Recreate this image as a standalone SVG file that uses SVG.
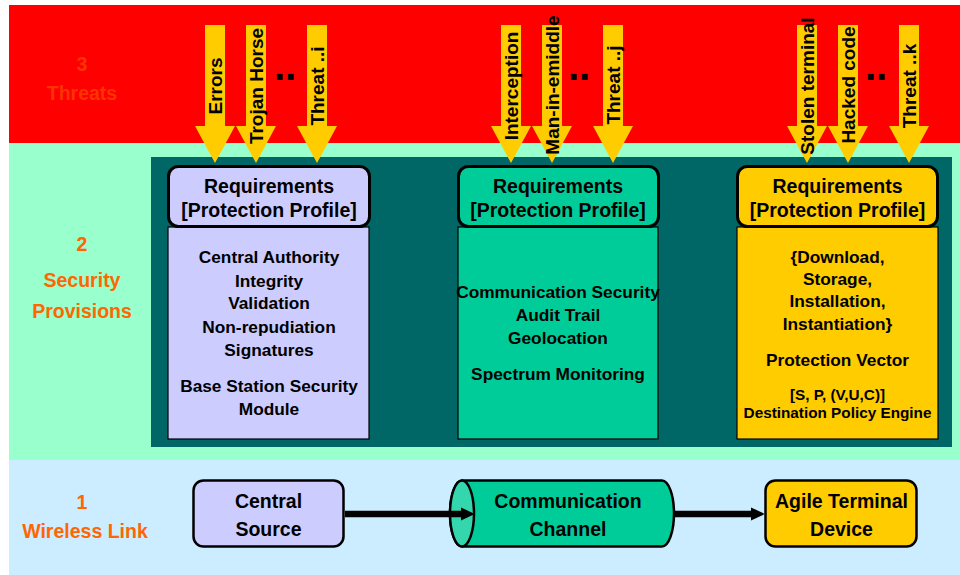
<svg xmlns="http://www.w3.org/2000/svg" width="960" height="575" viewBox="0 0 960 575">
<defs>
<style>
text{font-family:"Liberation Sans",Arial,sans-serif;font-weight:bold;fill:#000}
.lvl{font-size:19.5px;text-anchor:middle}
.thr{font-size:19px;text-anchor:middle}
.hd{font-size:19.5px;text-anchor:middle}
.bd{font-size:17.3px;text-anchor:middle}
.sm{font-size:15.3px;text-anchor:middle}
.nd{font-size:19.5px;text-anchor:middle}
.dots{font-size:40px}
.arr{fill:#FFCC00}
.hdr{stroke:#000;stroke-width:3}
.body{stroke:#000;stroke-width:1.2}
.link{stroke:#000;stroke-width:6.5;fill:none}
</style>
<marker id="ah" markerWidth="3" markerHeight="3" refX="1" refY="1.5" orient="auto" markerUnits="strokeWidth" viewBox="0 0 3 3">
<path d="M0,0.45 L2.2,1.5 L0,2.55 Z" fill="#000"/>
</marker>
</defs>

<g id="bands">
<rect x="9" y="5" width="951" height="138" fill="#FF0000"/>
<rect x="9" y="143" width="951" height="317" fill="#99FFCC"/>
<rect x="9" y="460" width="951" height="115" fill="#CCECFF"/>
<rect x="151" y="157" width="801" height="290" fill="#006666"/>
</g>

<g id="level-labels">
<text class="lvl" x="82" y="71" style="fill:#FF3300">3</text>
<text class="lvl" x="82" y="100" style="fill:#FF3300">Threats</text>
<text class="lvl" x="82" y="251" style="fill:#FF6600">2</text>
<text class="lvl" x="82" y="287" style="fill:#FF6600">Security</text>
<text class="lvl" x="82" y="318" style="fill:#FF6600">Provisions</text>
<text class="lvl" x="82" y="509" style="fill:#FF6600">1</text>
<text class="lvl" x="85" y="538" style="fill:#FF6600">Wireless Link</text>
</g>

<g id="threats">
<g id="threat-errors"><polygon class="arr" points="205,25 225,25 225,126 235,126 215,163 195,126 205,126"/><text class="thr" transform="translate(222,86) rotate(-90)">Errors</text></g>
<g id="threat-trojan"><polygon class="arr" points="246,25 266,25 266,126 276,126 256,163 236,126 246,126"/><text class="thr" transform="translate(263,86) rotate(-90)">Trojan Horse</text></g>
<g id="threat-i"><polygon class="arr" points="307,25 327,25 327,126 337,126 317,163 297,126 307,126"/><text class="thr" transform="translate(324,86) rotate(-90)">Threat ..i</text></g>
<text class="dots" x="274" y="80">..</text>

<g id="threat-interception"><polygon class="arr" points="501,25 521,25 521,126 531,126 511,163 491,126 501,126"/><text class="thr" transform="translate(518,86) rotate(-90)">Interception</text></g>
<g id="threat-mitm"><polygon class="arr" points="542,25 562,25 562,126 572,126 552,163 532,126 542,126"/><text class="thr" transform="translate(559,85) rotate(-90)">Man-in-emiddle</text></g>
<g id="threat-j"><polygon class="arr" points="603,25 623,25 623,126 633,126 613,163 593,126 603,126"/><text class="thr" transform="translate(620,85) rotate(-90)">Threat ..j</text></g>
<text class="dots" x="568" y="80">..</text>

<g id="threat-stolen"><polygon class="arr" points="797,25 817,25 817,126 827,126 807,163 787,126 797,126"/><text class="thr" transform="translate(814,86) rotate(-90)">Stolen terminal</text></g>
<g id="threat-hacked"><polygon class="arr" points="838,25 858,25 858,126 868,126 848,163 828,126 838,126"/><text class="thr" transform="translate(855,85) rotate(-90)">Hacked code</text></g>
<g id="threat-k"><polygon class="arr" points="899,25 919,25 919,126 929,126 909,163 889,126 899,126"/><text class="thr" transform="translate(916,86) rotate(-90)">Threat ..k</text></g>
<text class="dots" x="865" y="80">..</text>
</g>

<g id="req-central">
<rect class="body" x="168" y="227" width="201" height="212" fill="#CCCCFF"/>
<rect class="hdr" x="168.5" y="166.5" width="201" height="60" rx="10" fill="#CCCCFF"/>
<text class="hd" x="269" y="193">Requirements</text>
<text class="hd" x="269" y="217">[Protection Profile]</text>
<text class="bd" x="269" y="263">Central Authority</text>
<text class="bd" x="269" y="287">Integrity</text>
<text class="bd" x="269" y="309">Validation</text>
<text class="bd" x="269" y="333">Non-repudiation</text>
<text class="bd" x="269" y="356">Signatures</text>
<text class="bd" x="269" y="392">Base Station Security</text>
<text class="bd" x="269" y="415">Module</text>
</g>

<g id="req-channel">
<rect class="body" x="458" y="227" width="200" height="212" fill="#00CC99"/>
<rect class="hdr" x="458.5" y="166.5" width="200" height="60" rx="10" fill="#00CC99"/>
<text class="hd" x="558" y="193">Requirements</text>
<text class="hd" x="558" y="217">[Protection Profile]</text>
<text class="bd" x="558" y="298">Communication Security</text>
<text class="bd" x="558" y="321">Audit Trail</text>
<text class="bd" x="558" y="344">Geolocation</text>
<text class="bd" x="558" y="380">Spectrum Monitoring</text>
</g>

<g id="req-terminal">
<rect class="body" x="737" y="227" width="201" height="212" fill="#FFCC00"/>
<rect class="hdr" x="737.5" y="166.5" width="200" height="60" rx="10" fill="#FFCC00"/>
<text class="hd" x="837.5" y="193">Requirements</text>
<text class="hd" x="837.5" y="217">[Protection Profile]</text>
<text class="bd" x="837.5" y="263">{Download,</text>
<text class="bd" x="837.5" y="285">Storage,</text>
<text class="bd" x="837.5" y="307">Installation,</text>
<text class="bd" x="837.5" y="330">Instantiation}</text>
<text class="bd" x="837.5" y="366">Protection Vector</text>
<text class="sm" x="837.5" y="400">[S, P, (V,U,C)]</text>
<text class="sm" x="837.5" y="418">Destination Policy Engine</text>
</g>

<g id="node-central-source">
<rect x="193.5" y="480.5" width="150" height="66" rx="10" fill="#CCCCFF" stroke="#000" stroke-width="2.5"/>
<text class="nd" x="268.5" y="508">Central</text>
<text class="nd" x="268.5" y="536">Source</text>
</g>

<g id="node-channel">
<path d="M462,480.5 H662 A12,33 0 0 1 662,546.5 H462 A12,33 0 0 1 462,480.5 Z" fill="#00CC99" stroke="#000" stroke-width="2.5"/>
<ellipse cx="462" cy="513.5" rx="12" ry="33" fill="#33D6AD" stroke="#000" stroke-width="2.5"/>
<text class="nd" x="568" y="508">Communication</text>
<text class="nd" x="568" y="536">Channel</text>
</g>

<g id="node-terminal">
<rect x="765.5" y="480.5" width="151" height="66" rx="10" fill="#FFCC00" stroke="#000" stroke-width="2.5"/>
<text class="nd" x="841.5" y="508">Agile Terminal</text>
<text class="nd" x="841.5" y="536">Device</text>
</g>

<g id="connectors">
<line class="link" x1="345" y1="514" x2="467" y2="514" marker-end="url(#ah)"/>
<line class="link" x1="675" y1="514" x2="757" y2="514" marker-end="url(#ah)"/>
</g>
</svg>
